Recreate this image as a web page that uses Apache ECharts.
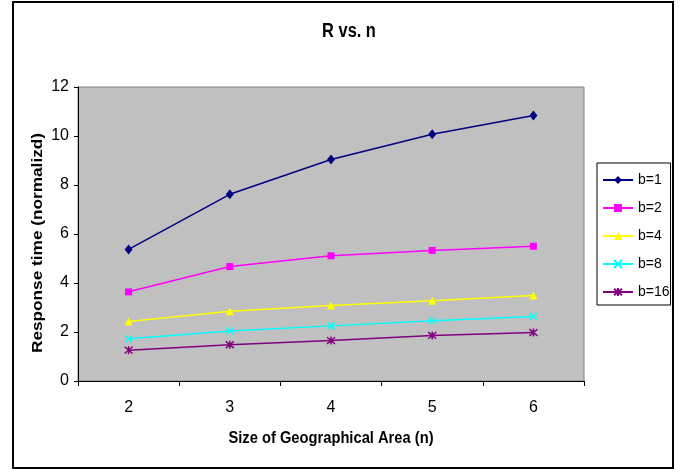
<!DOCTYPE html>
<html>
<head>
<meta charset="utf-8">
<script src="https://cdn.jsdelivr.net/npm/echarts@6/dist/echarts.min.js"></script>
<style>
  html, body { margin: 0; padding: 0; background: #ffffff; }
  #chart { width: 686px; height: 469px; }
</style>
</head>
<body>
<div id="chart"></div>
<script>
// Size of geographical area (n)
const categories = ['2', '3', '4', '5', '6'];

// Normalized response time per block count b
const b1  = [5.37, 7.62, 9.04, 10.07, 10.84];
const b2  = [3.64, 4.67, 5.11, 5.33, 5.50];
const b4  = [2.43, 2.85, 3.08, 3.28, 3.49];
const b8  = [1.72, 2.04, 2.25, 2.46, 2.63];
const b16 = [1.26, 1.48, 1.65, 1.86, 1.98];

const seriesNames = ['b=1', 'b=2', 'b=4', 'b=8', 'b=16'];
const yTicks = [0, 2, 4, 6, 8, 10, 12];

const FONT = "'Liberation Sans', Arial, sans-serif";

const crossPath = 'path://M0,0L10,10M10,0L0,10';
const starPath = 'path://M0,0L10,10M10,0L0,10M5,-1L5,11';

function lineSeries(name, data, color, symbol, size, stroked) {
  return {
    name: name,
    type: 'line',
    data: data,
    symbol: symbol,
    symbolSize: size,
    showSymbol: true,
    lineStyle: { color: color, width: 1.5 },
    itemStyle: stroked
      ? { color: color, borderColor: color, borderWidth: 1.5 }
      : { color: color, borderWidth: 0 },
    emphasis: { disabled: true },
    animation: false
  };
}

// Condensed-looking text: a regular font squeezed along its baseline
function squeezedText(text, x, y, size, scaleX, rotation) {
  return {
    type: 'text',
    silent: true,
    x: x,
    y: y,
    rotation: rotation || 0,
    scaleX: scaleX,
    style: {
      text: text,
      fontFamily: FONT,
      fontWeight: 'bold',
      fontSize: size,
      fill: '#000000',
      align: 'center',
      verticalAlign: 'middle'
    }
  };
}

const chart = echarts.init(document.getElementById('chart'), null, { renderer: 'canvas' });

chart.setOption({
  backgroundColor: '#ffffff',
  animation: false,
  grid: {
    left: 78, right: 102, top: 87, bottom: 88,
    show: true,
    backgroundColor: '#C0C0C0',
    borderColor: '#808080',
    borderWidth: 1
  },
  legend: {
    orient: 'vertical',
    left: 597,
    top: 163,
    padding: [10, 1, 6, 5],
    itemWidth: 30,
    itemHeight: 10,
    itemGap: 14,
    backgroundColor: '#ffffff',
    borderColor: '#000000',
    borderWidth: 1,
    textStyle: { fontFamily: FONT, fontSize: 14, lineHeight: 14, color: '#000000' },
    data: seriesNames
  },
  xAxis: {
    type: 'category',
    data: categories,
    boundaryGap: true,
    axisLine: { lineStyle: { color: '#000000', width: 1 } },
    axisTick: { show: true, length: 5, lineStyle: { color: '#000000' } },
    axisLabel: { margin: 19, fontFamily: FONT, fontSize: 16, color: '#000000' },
    splitLine: { show: false }
  },
  yAxis: {
    type: 'value',
    min: yTicks[0],
    max: yTicks[yTicks.length - 1],
    interval: 2,
    axisLine: { show: true, lineStyle: { color: '#000000', width: 1 } },
    axisTick: { show: true, length: 4, lineStyle: { color: '#000000' } },
    axisLabel: { margin: 9, fontFamily: FONT, fontSize: 16, color: '#000000' },
    splitLine: { show: false }
  },
  graphic: [
    {
      type: 'rect',
      silent: true,
      shape: { x: 13, y: 2, width: 660, height: 466 },
      style: { fill: 'none', stroke: '#000000', lineWidth: 2 }
    },
    squeezedText('R vs. n', 349, 31, 20, 0.82),
    squeezedText('Size of Geographical Area (n)', 331, 438, 17, 0.865),
    squeezedText('Response time (normalizd)', 38, 243, 14, 1.23, Math.PI / 2)
  ],
  series: [
    lineSeries(seriesNames[0], b1, '#000080', 'diamond', [8, 10], false),
    lineSeries(seriesNames[1], b2, '#FF00FF', 'rect', 7, false),
    lineSeries(seriesNames[2], b4, '#FFFF00', 'triangle', 8, false),
    lineSeries(seriesNames[3], b8, '#00FFFF', crossPath, 7, true),
    lineSeries(seriesNames[4], b16, '#800080', starPath, 8, true)
  ]
});
</script>
</body>
</html>
